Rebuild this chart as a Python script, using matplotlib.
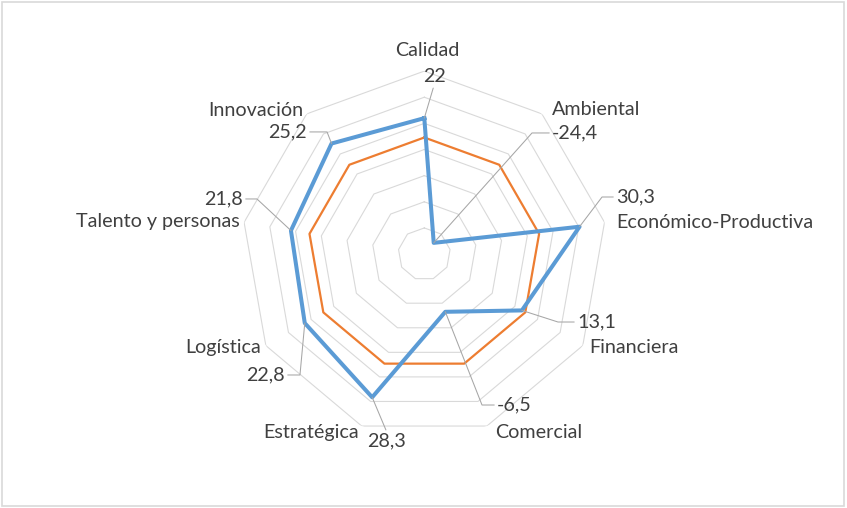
import math
import numpy as np
import matplotlib
matplotlib.use('Agg')
import matplotlib.pyplot as plt
from matplotlib.patches import Rectangle

plt.rcParams['font.family'] = ['Lato', 'DejaVu Sans']

# datos
categorias = ['Calidad', 'Ambiental', 'Económico-Productiva', 'Financiera', 'Comercial',
              'Estratégica', 'Logística', 'Talento y personas', 'Innovación']
serie_azul = [22, -24.4, 30.3, 13.1, -6.5, 28.3, 22.8, 21.8, 25.2]
serie_naranja = [14.6, 14.6, 14.6, 14.6, 14.6, 14.6, 14.6, 14.6, 14.6]
etiquetas_azul = ['22', '-24,4', '30,3', '13,1', '-6,5', '28,3', '22,8', '21,8', '25,2']
anillos = [-20, -10, 0, 10, 20, 30, 40]
r_min, r_max = -30, 40

# posicion de las etiquetas (pixeles respecto al punto): dx, dy, ha, tramo horizontal
pos_datos = [(9.7, 41.2, 'center', None), (118.3, 109.9, 'left', 20),
             (36.5, 29.7, 'left', 14), (55.1, -11.6, 'left', 19),
             (51.7, -93.2, 'left', 15), (14.8, -43.7, 'center', None),
             (-19.8, -51.9, 'right', 15), (-48.0, 31.6, 'right', 14),
             (-24.5, 11.6, 'right', 20)]
pos_cat = [(3, 20.6, 'center'), (10, 4, 'left'), (11.5, -0.7, 'left'),
           (6, -2.4, 'left'), (8, -6, 'left'), (-2.5, -6, 'right'),
           (-4.8, -2.4, 'right'), (-4, 0.3, 'right'), (-3.7, 3, 'right')]

color_txt = '#404040'
color_guia = '#a6a6a6'
tam = 14.2

fig = plt.figure(figsize=(8.47, 5.08), dpi=100)
fig.patches.append(Rectangle((0.002, 0.003), 0.995, 0.993, transform=fig.transFigure,
                             fill=False, edgecolor='#d9d9d9', lw=1.2))
ax = fig.add_axes([0.2849, 0.1396, 0.4321, 0.7205], projection='polar')
ax.set_theta_zero_location('N')
ax.set_theta_direction(-1)
ax.set_ylim(r_min, r_max)
ax.axis('off')

n = len(categorias)
ang = np.linspace(0, 2 * np.pi, n, endpoint=False)
ang_c = np.append(ang, ang[0])

for r in anillos:
    ax.plot(ang_c, [r] * (n + 1), color='#d9d9d9', lw=0.8, zorder=1)

ax.plot(ang_c, serie_naranja + serie_naranja[:1], color='#ED7D31', lw=1.6, zorder=3)
ax.plot(ang_c, serie_azul + serie_azul[:1], color='#5B9BD5', lw=2.9, zorder=4)

# etiquetas de datos con lineas guia
for i in range(n):
    dx, dy, ha, tramo = pos_datos[i]
    if tramo is None:
        relpos = (0.5, 0) if dy > 0 else (0.5, 1)
        cs = 'arc3'
    else:
        relpos = (0, 0.5) if ha == 'left' else (1, 0.5)
        cx = dx - tramo if ha == 'left' else dx + tramo
        angB = math.degrees(math.atan2(dy, cx))
        cs = 'angle,angleA=0,angleB=%.2f,rad=0' % angB
    ax.annotate(etiquetas_azul[i], xy=(ang[i], serie_azul[i]), xytext=(dx, dy),
                textcoords='offset pixels', ha=ha, va='center', fontsize=tam,
                color=color_txt, annotation_clip=False, zorder=5,
                arrowprops=dict(arrowstyle='-', color=color_guia, lw=0.75,
                                relpos=relpos, connectionstyle=cs, patchA=None,
                                shrinkA=2, shrinkB=0))

# etiquetas de categorias
for i in range(n):
    dx, dy, ha = pos_cat[i]
    ax.annotate(categorias[i], xy=(ang[i], r_max), xytext=(dx, dy),
                textcoords='offset pixels', ha=ha, va='center', fontsize=tam,
                color=color_txt, annotation_clip=False)

fig.savefig('out.png', dpi=100)
